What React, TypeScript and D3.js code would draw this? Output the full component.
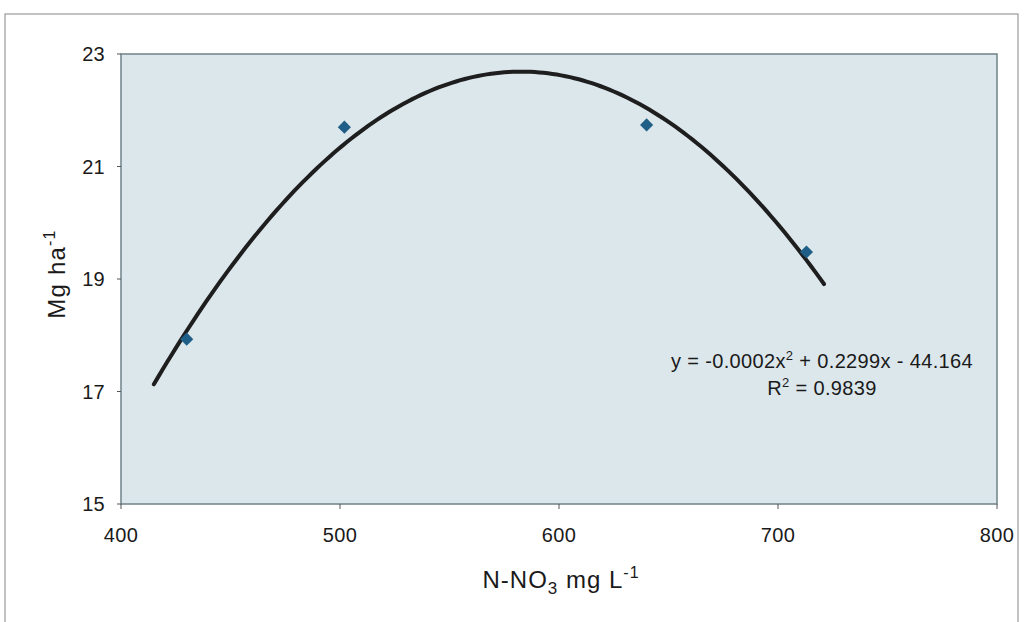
import React from "react";
import * as d3 from "d3";

// Observed yield vs. nitrate concentration in the extract
const nitrate = [430, 502, 640, 713];
const yieldMg = [17.93, 21.7, 21.74, 19.48];

// Axis ticks
const xTicks = [400, 500, 600, 700, 800];
const yTicks = [15, 17, 19, 21, 23];

// Polynomial trendline span (with a short forecast either side)
const trendFrom = 415;
const trendTo = 722;

const equationText = ["y = -0.0002x", "2", " + 0.2299x - 44.164"];
const r2Text = "0.9839";

// Least-squares fit of y = a x^2 + b x + c
function fitQuadratic(xs: number[], ys: number[]) {
  const n = xs.length;
  let s0 = n, s1 = 0, s2 = 0, s3 = 0, s4 = 0, t0 = 0, t1 = 0, t2 = 0;
  for (let i = 0; i < n; i++) {
    const x = xs[i], y = ys[i];
    s1 += x; s2 += x * x; s3 += x ** 3; s4 += x ** 4;
    t0 += y; t1 += x * y; t2 += x * x * y;
  }
  const M = [
    [s4, s3, s2, t2],
    [s3, s2, s1, t1],
    [s2, s1, s0, t0],
  ];
  for (let i = 0; i < 3; i++) {
    for (let k = i + 1; k < 3; k++) {
      const f = M[k][i] / M[i][i];
      for (let j = i; j < 4; j++) M[k][j] -= f * M[i][j];
    }
  }
  const sol = [0, 0, 0];
  for (let i = 2; i >= 0; i--) {
    let s = M[i][3];
    for (let j = i + 1; j < 3; j++) s -= M[i][j] * sol[j];
    sol[i] = s / M[i][i];
  }
  return sol;
}

export default function App() {
  const W = 1025, H = 622;
  const left = 121, right = 997, top = 54, bottom = 504;
  const font = "Arial, 'Liberation Sans', sans-serif";

  const x = d3.scaleLinear().domain([400, 800]).range([left, right]);
  const y = d3.scaleLinear().domain([15, 23]).range([bottom, top]);

  const [a, b, c] = fitQuadratic(nitrate, yieldMg);
  const curveX = d3.range(trendFrom, trendTo + 0.001, 2);
  const line = d3
    .line<number>()
    .x((v) => x(v))
    .y((v) => y(a * v * v + b * v + c))
    .curve(d3.curveLinear);

  const diamond = d3.symbol().type(d3.symbolDiamond2).size(110)();

  return (
    <svg
      width={W}
      height={H}
      style={{ position: "absolute", left: 0, top: 0, background: "#ffffff" }}
    >
      {/* chart border */}
      <rect x={5} y={14} width={1013} height={640} fill="#ffffff" stroke="#9a9a9a" strokeWidth={1.2} />

      {/* plot area */}
      <rect x={left} y={top} width={right - left} height={bottom - top} fill="#dce7ec" stroke="#6f8288" strokeWidth={1.5} />

      {/* y ticks */}
      {yTicks.map((t) => (
        <g key={"y" + t}>
          <line x1={left - 4} x2={left} y1={y(t)} y2={y(t)} stroke="#555" strokeWidth={1} />
          <text x={left - 16} y={y(t)} dy="0.36em" textAnchor="end" fontFamily={font} fontSize={20} letterSpacing={0.3} fill="#1a1a1a">
            {t}
          </text>
        </g>
      ))}

      {/* x ticks */}
      {xTicks.map((t) => (
        <g key={"x" + t}>
          <line x1={x(t)} x2={x(t)} y1={bottom} y2={bottom + 5} stroke="#555" strokeWidth={1} />
          <text x={x(t)} y={bottom + 38} textAnchor="middle" fontFamily={font} fontSize={20} letterSpacing={0.3} fill="#1a1a1a">
            {t}
          </text>
        </g>
      ))}

      {/* axis titles */}
      <text x={561} y={588} textAnchor="middle" fontFamily={font} fontSize={24} letterSpacing={1} fill="#1a1a1a">
        N-NO
        <tspan fontSize={17} dy={6}>3</tspan>
        <tspan dy={-6}> mg L</tspan>
        <tspan fontSize={16} dy={-10}>-1</tspan>
      </text>
      <text
        transform={`translate(65, 274) rotate(-90)`}
        textAnchor="middle"
        fontFamily={font}
        fontSize={24}
        letterSpacing={1.2}
        fill="#1a1a1a"
      >
        Mg ha<tspan fontSize={16} dy={-10}>-1</tspan>
      </text>

      {/* trendline */}
      <path d={line(curveX) || ""} fill="none" stroke="#1e1e1e" strokeWidth={4} strokeLinecap="round" />

      {/* data points */}
      {nitrate.map((v, i) => (
        <path
          key={"p" + i}
          d={diamond || ""}
          transform={`translate(${x(v)}, ${y(yieldMg[i])})`}
          fill="#1f5e86"
        />
      ))}

      {/* equation and R² */}
      <text x={822} y={368} textAnchor="middle" fontFamily={font} fontSize={20} letterSpacing={0.35} fill="#1a1a1a">
        {equationText[0]}
        <tspan fontSize={13} dy={-8}>{equationText[1]}</tspan>
        <tspan dy={8}>{equationText[2]}</tspan>
      </text>
      <text x={822} y={395} textAnchor="middle" fontFamily={font} fontSize={20} letterSpacing={0.35} fill="#1a1a1a">
        R<tspan fontSize={13} dy={-8}>2</tspan>
        <tspan dy={8}> = {r2Text}</tspan>
      </text>
    </svg>
  );
}
